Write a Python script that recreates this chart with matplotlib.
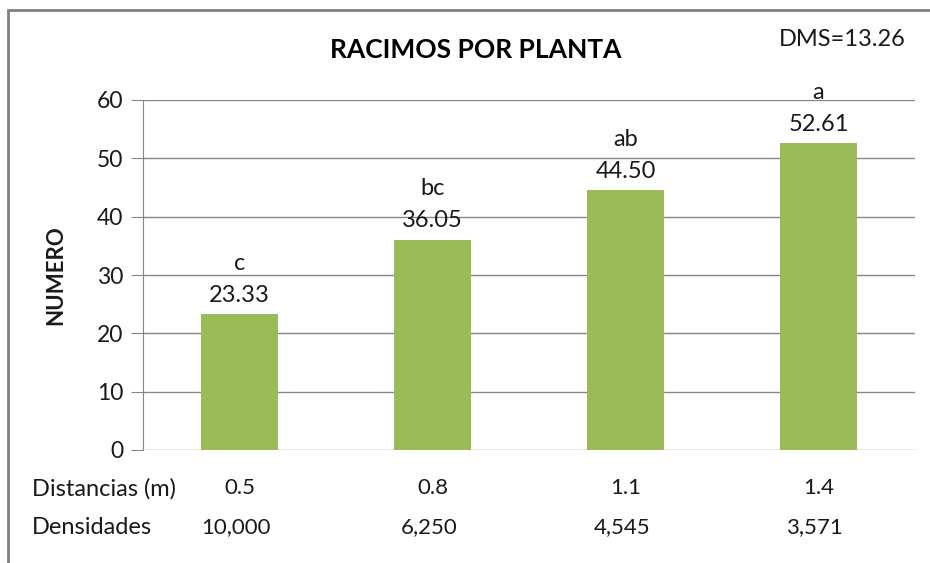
import matplotlib
matplotlib.use("Agg")
import matplotlib.pyplot as plt
from matplotlib.patches import Rectangle

plt.rcParams['font.family'] = ['Lato', 'DejaVu Sans']

categories = ["0.5", "0.8", "1.1", "1.4"]
densidades = ["10,000", "6,250", "4,545", "3,571"]
values = [23.33, 36.05, 44.50, 52.61]
letters = ["c", "bc", "ab", "a"]
yticks = [0, 10, 20, 30, 40, 50, 60]

bar_color = "#9BBB59"
grid_color = "#868686"
text_color = "#1a1a1a"

fig = plt.figure(figsize=(9.3, 5.63), dpi=100)
ax = fig.add_axes([143/930, 1-450/563, (915-143)/930, 350/563])

x = list(range(len(values)))
ax.bar(x, values, width=0.4, color=bar_color, zorder=3)
ax.set_xlim(-0.5, 3.5)
ax.set_ylim(0, 60)
ax.set_yticks(yticks)
ax.yaxis.grid(True, color=grid_color, linewidth=1, zorder=0)
ax.set_xticks([])
for s in ["top", "right", "bottom"]:
    ax.spines[s].set_visible(False)
ax.spines["left"].set_color(grid_color)
ax.tick_params(axis="y", length=9, color=grid_color, labelsize=16.5, labelcolor=text_color, pad=5)

for xi, v, l in zip(x, values, letters):
    ax.annotate(f"{v:.2f}", (xi, v), xytext=(0, 6), textcoords="offset points",
                ha="center", va="bottom", fontsize=17, color=text_color)
    ax.annotate(l, (xi, v), xytext=(0, 29), textcoords="offset points",
                ha="center", va="bottom", fontsize=17, color=text_color)

ax.set_ylabel("NUMERO", fontsize=16, fontweight="bold", color=text_color, labelpad=22)

# bottom rows
trans = ax.get_xaxis_transform()
for xi, c, d in zip(x, categories, densidades):
    ax.text(xi, -0.11, c, transform=trans, ha="center", va="center", fontsize=16, color=text_color)
    ax.text(xi - 0.02, -0.22, d, transform=trans, ha="center", va="center", fontsize=16, color=text_color)
fig.text(32/930, 1-489/563, "Distancias (m)", ha="left", va="center", fontsize=17, color=text_color)
fig.text(32/930, 1-527/563, "Densidades", ha="left", va="center", fontsize=17, color=text_color)

fig.text(476/930, 1-50/563, "RACIMOS POR PLANTA", ha="center", va="center",
         fontsize=19, fontweight="bold", color="black")
fig.text(842/930, 1-40/563, "DMS=13.26", ha="center", va="center", fontsize=17, color=text_color)

fig.patches.append(Rectangle((8/930, -0.1), 1.2, 1-10/563+0.1, transform=fig.transFigure,
                             fill=False, edgecolor="#7f7f7f", linewidth=2))

fig.savefig("out.png", dpi=100)
